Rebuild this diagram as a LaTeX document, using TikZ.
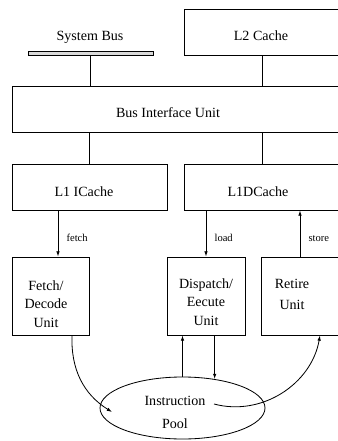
\documentclass[tikz,border=0pt]{standalone}
\usepackage{fontspec}
\setmainfont{Liberation Serif}
\usetikzlibrary{arrows.meta,calc,positioning,fit,shapes.geometric}

\begin{document}
\begin{tikzpicture}[x=0.03cm,y=0.03cm,every node/.style={font=\fontsize{12}{16}\selectfont,align=center},unit/.style={draw,line width=0.7pt,inner sep=0pt},bar/.style={draw,fill=black!15,line width=0.6pt,inner sep=0pt},pool/.style={draw,ellipse,line width=0.7pt,minimum width=4.95cm,minimum height=1.86cm,inner sep=0pt},tag/.style={font=\fontsize{9}{10}\selectfont,right,xshift=7pt,inner sep=0pt,pos=0.6},link/.style={line width=0.8pt},arr/.style={line width=0.7pt,-{Latex[length=4.5pt,width=3pt]}}]
\useasboundingbox (0,0) rectangle (338,-441); \clip (0,0) rectangle (338,-441);
\fill[white] (0,0) rectangle (338,-441);
% bus side
\node[bar,fit={(28,-51)(153,-55)}](bus){};\node (bustxt) at (90,-37){System Bus};
\node[unit,fit={(184,-9)(345,-55)}](l2){};\node (l2txt) at (261,-36){L2 Cache};
\node[unit,fit={(12,-86)(350,-132)}](biu){};\node (biutxt) at (168,-113){Bus Interface Unit};
% caches
\node[unit,fit={(12,-164)(167,-210)}](l1i){};\node (l1itxt) at (84,-192){L1 ICache};
\node[unit,fit={(184,-164)(345,-210)}](l1d){};\node (l1dtxt) at (258,-192){L1DCache};
% units
\node[unit,fit={(12,-257)(89,-335)}](fdu){};\node (fdutxt) at (46,-304){Fetch/\\Decode\\Unit};
\node[unit,fit={(167,-257)(245,-335)}](deu){};\node (deutxt) at (206,-302){Dispatch/\\Eecute\\Unit};
\node[unit,fit={(261,-257)(350,-335)}](ru){};\node (rutxt) at (292,-294){Retire\\[2pt]Unit};
\node[pool](ip) at (182.5,-408){};\node (iptxt) at (175,-412.5){Instruction\\[3pt]Pool};
\coordinate (fin) at (112,-412);\coordinate (rout) at (214,-404);
% connectors
\draw[link](bus.south)--(bus.south|-biu.north);
\draw[link]([xshift=-0.075cm]l2.south)--([xshift=-0.075cm]l2.south|-biu.north);
\draw[link](l1i.north)--(l1i.north|-biu.south);
\draw[link]([xshift=-0.075cm]l1d.north)--([xshift=-0.075cm]l1d.north|-biu.south);
\draw[arr]([xshift=-0.945cm]l1i.south)--node[tag]{fetch}([xshift=-0.945cm]l1i.south|-fdu.north);
\draw[arr](l1d.south-|deu.north)--node[tag]{load}(deu.north);
\draw[arr]([xshift=-0.165cm]ru.north)--node[tag,pos=0.4]{store}([xshift=-0.165cm]ru.north|-l1d.south);
\draw[arr](ip.north)--(ip.north|-deu.south);
\draw[arr](ip.42|-deu.south)--(ip.42);
\draw[arr]([xshift=0.645cm]fdu.south) to[out=-92,in=148] (fin);
\draw[arr](rout) to[out=-15,in=-100] ([xshift=0.435cm]ru.south);
\end{tikzpicture}
\end{document}
